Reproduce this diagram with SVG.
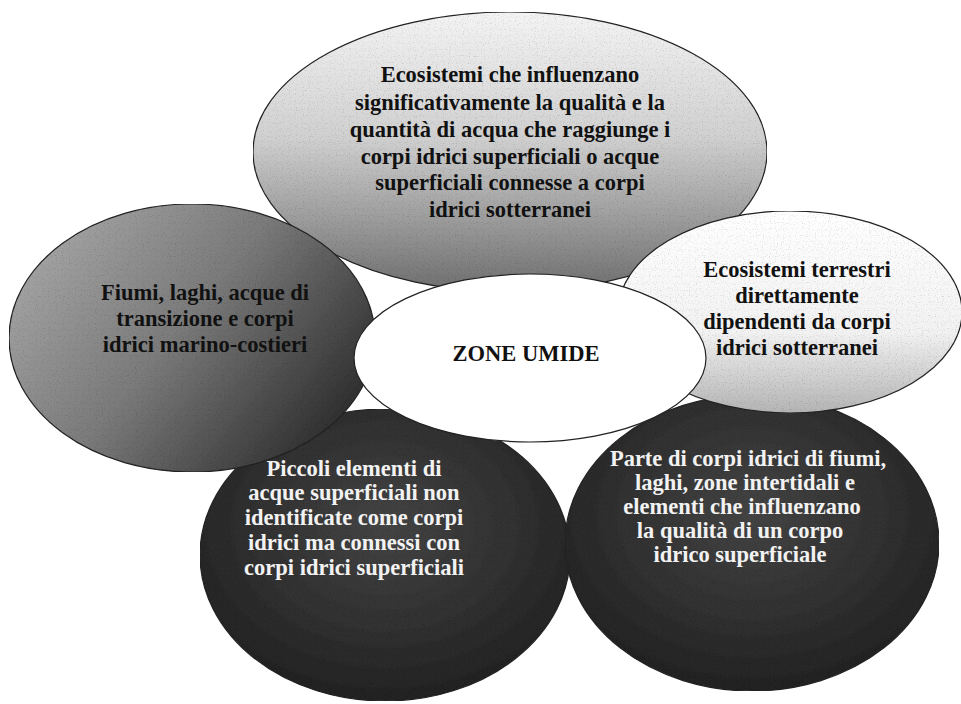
<svg xmlns="http://www.w3.org/2000/svg" width="961" height="704" viewBox="0 0 961 704">
  <style>
    .t { font-family: "Liberation Serif", "Times New Roman", serif; font-weight: bold; font-size: 22.5px; text-anchor: middle; fill: #111; }
    .tw { fill: #f2f2f2; }
    .e { stroke: #222; stroke-width: 1.2; }
  </style>
  <defs>
    <filter id="grain" x="0" y="0" width="100%" height="100%">
      <feTurbulence type="fractalNoise" baseFrequency="0.85" numOctaves="1" seed="7" result="n"/>
      <feColorMatrix in="n" type="matrix" values="0 0 0 0 0  0 0 0 0 0  0 0 0 0 0  0 0 0 -3 1.35" result="dots"/>
      <feComposite in="dots" in2="SourceGraphic" operator="in" result="d2"/>
      <feComponentTransfer in="d2" result="d3"><feFuncA type="linear" slope="0.35"/></feComponentTransfer>
      <feMerge><feMergeNode in="SourceGraphic"/><feMergeNode in="d3"/></feMerge>
    </filter>
    <linearGradient id="gTop" x1="0" y1="0" x2="0" y2="1">
      <stop offset="0" stop-color="#f4f4f4"/>
      <stop offset="0.45" stop-color="#d0d0d0"/>
      <stop offset="1" stop-color="#6e6e6e"/>
    </linearGradient>
    <linearGradient id="gLeft" x1="0" y1="0" x2="1" y2="0.6">
      <stop offset="0" stop-color="#b0b0b0"/>
      <stop offset="0.55" stop-color="#7a7a7a"/>
      <stop offset="1" stop-color="#333333"/>
    </linearGradient>
    <linearGradient id="gRight" x1="0" y1="0" x2="0" y2="1">
      <stop offset="0" stop-color="#ffffff"/>
      <stop offset="0.6" stop-color="#f2f2f2"/>
      <stop offset="1" stop-color="#b4b4b4"/>
    </linearGradient>
    <radialGradient id="gDark" cx="0.5" cy="0.4" r="0.6">
      <stop offset="0" stop-color="#444444"/>
      <stop offset="1" stop-color="#222222"/>
    </radialGradient>
  </defs>

  <g id="connectors"></g>

  <g id="node-bottom-left">
    <ellipse class="e" cx="385" cy="555" rx="185" ry="146" fill="url(#gDark)" filter="url(#grain)"/>
    <text class="t tw" x="354" y="476">Piccoli elementi di</text>
    <text class="t tw" x="354" y="500">acque superficiali non</text>
    <text class="t tw" x="354" y="525">identificate come corpi</text>
    <text class="t tw" x="354" y="550">idrici ma connessi con</text>
    <text class="t tw" x="354" y="575">corpi idrici superficiali</text>
  </g>

  <g id="node-bottom-right">
    <ellipse class="e" cx="752" cy="543" rx="187" ry="148" fill="url(#gDark)" filter="url(#grain)"/>
    <text class="t tw" x="748" y="466">Parte di corpi idrici di fiumi,</text>
    <text class="t tw" x="745" y="490">laghi, zone intertidali e</text>
    <text class="t tw" x="742" y="514">elementi che influenzano</text>
    <text class="t tw" x="740" y="538">la qualità di un corpo</text>
    <text class="t tw" x="740" y="562">idrico superficiale</text>
  </g>

  <g id="node-top">
    <ellipse class="e" cx="510" cy="152" rx="257" ry="140" fill="url(#gTop)" filter="url(#grain)"/>
    <text class="t" x="510" y="82">Ecosistemi che influenzano</text>
    <text class="t" x="510" y="110">significativamente la qualità e la</text>
    <text class="t" x="510" y="137">quantità di acqua che raggiunge i</text>
    <text class="t" x="510" y="164">corpi idrici superficiali o acque</text>
    <text class="t" x="510" y="190">superficiali connesse a corpi</text>
    <text class="t" x="510" y="217">idrici sotterranei</text>
  </g>

  <g id="node-left">
    <ellipse class="e" cx="192" cy="338" rx="183" ry="134" fill="url(#gLeft)" filter="url(#grain)"/>
    <text class="t" x="205" y="300">Fiumi, laghi, acque di</text>
    <text class="t" x="205" y="326">transizione e corpi</text>
    <text class="t" x="205" y="352">idrici marino-costieri</text>
  </g>

  <g id="node-right">
    <ellipse class="e" cx="790" cy="312" rx="172" ry="101" fill="url(#gRight)" filter="url(#grain)"/>
    <text class="t" x="797" y="277">Ecosistemi terrestri</text>
    <text class="t" x="797" y="303">direttamente</text>
    <text class="t" x="797" y="329">dipendenti da corpi</text>
    <text class="t" x="797" y="355">idrici sotterranei</text>
  </g>

  <g id="node-center">
    <ellipse class="e" cx="530" cy="358" rx="176" ry="84" fill="#ffffff"/>
    <text class="t" x="526" y="361">ZONE UMIDE</text>
  </g>
</svg>
